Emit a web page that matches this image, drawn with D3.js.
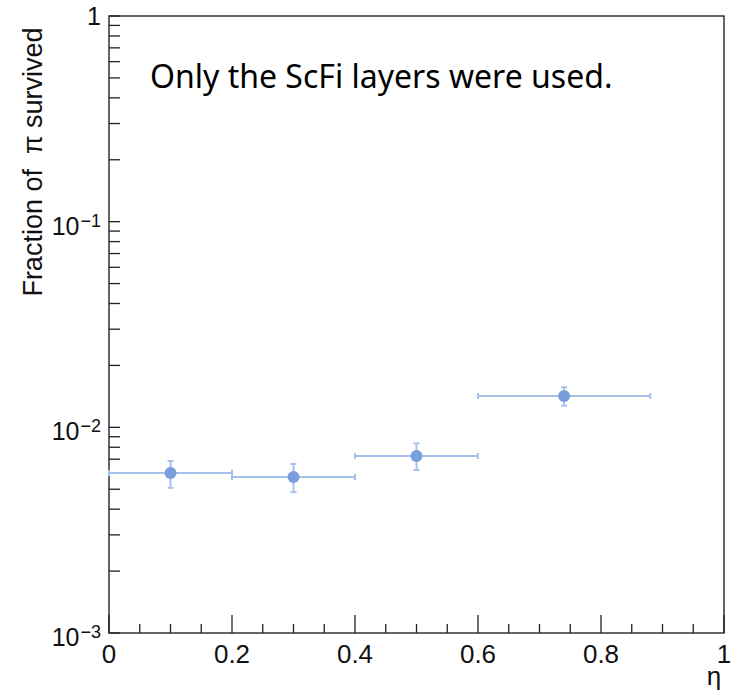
<!DOCTYPE html>
<html><head><meta charset="utf-8">
<script src="https://cdn.jsdelivr.net/npm/d3@7"></script>
<style>body{margin:0;background:#fff}svg{display:block}</style>
</head><body>
<script>
const etaCenters = [0.1, 0.3, 0.5, 0.74];
const etaLow = [0.0, 0.2, 0.4, 0.6];
const etaHigh = [0.2, 0.4, 0.6, 0.88];
const fraction = [0.0060, 0.00573, 0.00725, 0.0142];
const errUp = [0.00686, 0.00664, 0.00836, 0.01565];
const errDown = [0.00508, 0.00484, 0.0062, 0.01274];
const xTicks = [0, 0.2, 0.4, 0.6, 0.8, 1];
const xTickLabels = ["0", "0.2", "0.4", "0.6", "0.8", "1"];
const yMajor = [0.001, 0.01, 0.1, 1];
const yMajorLabels = [["10","−3"],["10","−2"],["10","−1"],["1",""]];

const W = 731, H = 698;
const L = 109, R = 724, T = 16, B = 633;
const svg = d3.select("body").append("svg").attr("width", W).attr("height", H);
const x = d3.scaleLinear().domain([0,1]).range([L,R]);
const y = d3.scaleLog().domain([0.001,1]).range([B,T]);
const font = "'Liberation Sans', Arial, Helvetica, sans-serif";
const axisCol = "#222";

// frame
svg.append("rect").attr("x",L).attr("y",T).attr("width",R-L).attr("height",B-T)
  .attr("fill","none").attr("stroke","#333").attr("stroke-width",1.5);

// x ticks
const xMinor = d3.range(0, 1.0001, 0.05);
svg.append("g").selectAll("line").data(xMinor).join("line")
  .attr("x1",d=>x(d)).attr("x2",d=>x(d))
  .attr("y1",B).attr("y2",d=>B-(Math.abs(d*5-Math.round(d*5))<1e-6?18:9))
  .attr("stroke",axisCol).attr("stroke-width",1.3);
svg.append("g").selectAll("text").data(xTicks).join("text")
  .attr("x",d=>x(d)).attr("y",663).attr("text-anchor","middle")
  .attr("font-family",font).attr("font-size",26).attr("fill","#111")
  .text((d,i)=>xTickLabels[i]);
svg.append("text").attr("x",714).attr("y",685).attr("text-anchor","middle")
  .attr("font-family",font).attr("font-size",26).attr("fill","#111").text("η");

// y ticks
const yMinor = [];
for (let e=-3; e<0; e++) for (let m=1; m<10; m++) yMinor.push(m*Math.pow(10,e));
yMinor.push(1);
svg.append("g").selectAll("line").data(yMinor).join("line")
  .attr("x1",L).attr("x2",L+11)
  .attr("y1",d=>y(d)).attr("y2",d=>y(d))
  .attr("stroke",axisCol).attr("stroke-width",1.3);
const yl = svg.append("g").selectAll("text").data(yMajor).join("text")
  .attr("x",101).attr("y",d=>d===1?y(d)+9:y(d)+13).attr("text-anchor","end")
  .attr("font-family",font).attr("font-size",25).attr("fill","#111");
yl.each(function(d,i){
  const t = d3.select(this);
  t.append("tspan").text(yMajorLabels[i][0]);
  if (yMajorLabels[i][1]) t.append("tspan").attr("dy",-8).attr("dx",1).attr("font-size",18).text(yMajorLabels[i][1]);
});

// y title
svg.append("text").attr("transform","translate(42,162) rotate(-90)")
  .attr("text-anchor","middle").attr("font-family",font).attr("font-size",27).attr("fill","#111")
  .attr("xml:space","preserve").style("white-space","pre")
  .text("Fraction of  π survived");

// annotation
svg.append("text").attr("x",150).attr("y",88)
  .attr("font-family","'Noto Sans', 'Open Sans', sans-serif").attr("font-size",32).attr("fill","#000")
  .text("Only the ScFi layers were used.");

// data
const lineCol = "#a7c1ec", markCol = "#7a9edc";
const g = svg.append("g");
const idx = d3.range(fraction.length);
g.selectAll("line.h").data(idx).join("line").attr("class","h")
  .attr("x1",i=>x(etaLow[i])).attr("x2",i=>x(etaHigh[i]))
  .attr("y1",i=>y(fraction[i])).attr("y2",i=>y(fraction[i]))
  .attr("stroke",lineCol).attr("stroke-width",2);
g.selectAll("line.v").data(idx).join("line").attr("class","v")
  .attr("x1",i=>x(etaCenters[i])).attr("x2",i=>x(etaCenters[i]))
  .attr("y1",i=>y(errUp[i])).attr("y2",i=>y(errDown[i]))
  .attr("stroke",lineCol).attr("stroke-width",2);
const caps = [];
idx.forEach(i=>{
  caps.push({x1:x(etaLow[i]),x2:x(etaLow[i]),y1:y(fraction[i])-3,y2:y(fraction[i])+3});
  caps.push({x1:x(etaHigh[i]),x2:x(etaHigh[i]),y1:y(fraction[i])-3,y2:y(fraction[i])+3});
  caps.push({x1:x(etaCenters[i])-3,x2:x(etaCenters[i])+3,y1:y(errUp[i]),y2:y(errUp[i])});
  caps.push({x1:x(etaCenters[i])-3,x2:x(etaCenters[i])+3,y1:y(errDown[i]),y2:y(errDown[i])});
});
g.selectAll("line.c").data(caps).join("line").attr("class","c")
  .attr("x1",d=>d.x1).attr("x2",d=>d.x2).attr("y1",d=>d.y1).attr("y2",d=>d.y2)
  .attr("stroke",lineCol).attr("stroke-width",2);
g.selectAll("circle").data(idx).join("circle")
  .attr("cx",i=>x(etaCenters[i])).attr("cy",i=>y(fraction[i])).attr("r",6)
  .attr("fill",markCol);
</script>
</body></html>
